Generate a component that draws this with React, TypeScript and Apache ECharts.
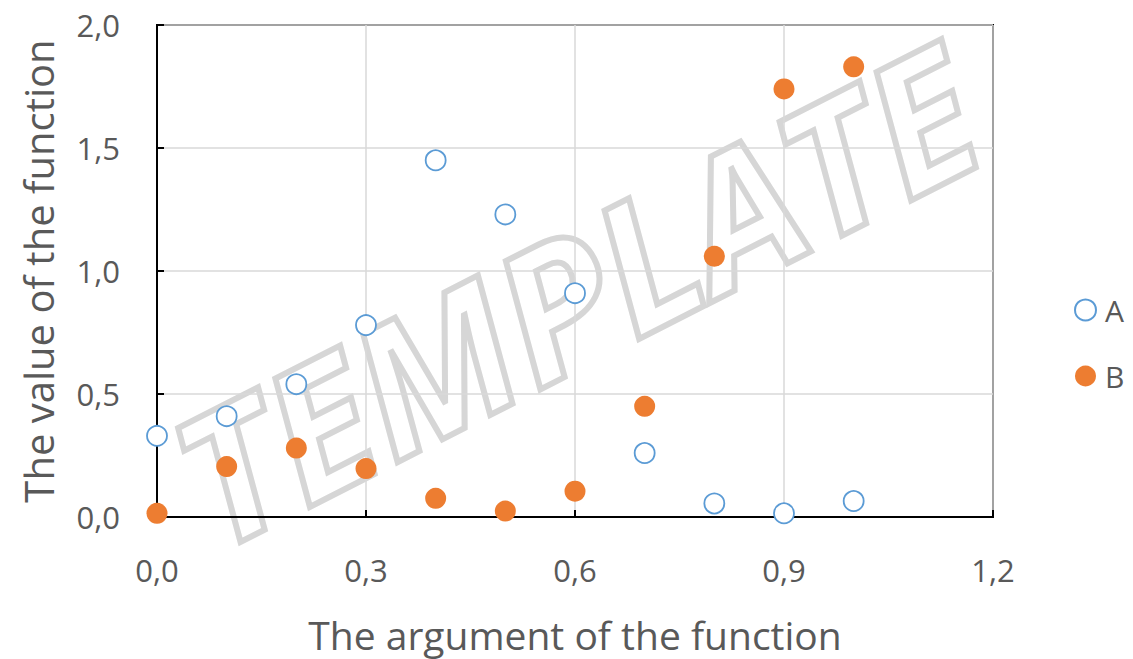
import React, { useEffect, useRef } from "react";
import * as echarts from "echarts";

const xValues = [0, 0.1, 0.2, 0.3, 0.4, 0.5, 0.6, 0.7, 0.8, 0.9, 1.0];
const seriesA = [0.33, 0.41, 0.54, 0.78, 1.45, 1.23, 0.91, 0.26, 0.055, 0.015, 0.065];
const seriesB = [0.015, 0.205, 0.28, 0.197, 0.076, 0.024, 0.105, 0.45, 1.06, 1.74, 1.83];
const seriesNames = ["A", "B"];
const xAxisTitle = "The argument of the function";
const yAxisTitle = "The value of the function";
const watermark = "TEMPLATE";

const fmt = (v: number) => v.toFixed(1).replace(".", ",");

export default function App() {
  const ref = useRef<HTMLDivElement>(null);
  useEffect(() => {
    document.body.style.margin = "0";
    if (!ref.current) return;
    const chart = echarts.init(ref.current, null, { renderer: "svg" });
    const font = "'Open Sans', 'Liberation Sans', sans-serif";
    chart.setOption({
      animation: false,
      backgroundColor: "#ffffff",
      grid: {
        left: 157,
        right: 140,
        top: 25,
        bottom: 137,
        show: true,
        borderColor: "#000000",
        borderWidth: 2,
      },
      graphic: [
        {
          type: "text",
          x: 575,
          y: 292,
          rotation: (27 * Math.PI) / 180,
          z: 0,
          silent: true,
          style: {
            text: watermark,
            font: `italic bold 182px ${font}`,
            lineHeight: 130,
            fill: "rgba(255,255,255,0)",
            stroke: "#d6d6d6",
            lineWidth: 6,
            align: "center",
            verticalAlign: "middle",
          },
        },
      ],
      legend: {
        orient: "vertical",
        left: 1069,
        top: 290,
        itemGap: 36,
        itemWidth: 21,
        itemHeight: 21,
        textStyle: { fontSize: 30, color: "#595959", fontFamily: font, padding: [0, 0, 0, 4] },
        data: seriesNames,
      },
      xAxis: {
        type: "value",
        min: 0,
        max: 1.2,
        interval: 0.3,
        name: xAxisTitle,
        nameLocation: "middle",
        nameGap: 97,
        nameTextStyle: { fontSize: 39, lineHeight: 40, color: "#595959", fontFamily: font },
        axisLine: { show: true, lineStyle: { color: "#000", width: 2 } },
        axisTick: { show: true, inside: true, length: 7, lineStyle: { color: "#000", width: 2 } },
        axisLabel: { formatter: fmt, fontSize: 31, color: "#595959", fontFamily: font, margin: 37 },
        splitLine: { show: true, lineStyle: { color: "#d9d9d9", width: 1.5 } },
      },
      yAxis: {
        type: "value",
        min: 0,
        max: 2,
        interval: 0.5,
        name: yAxisTitle,
        nameLocation: "middle",
        nameGap: 99,
        nameTextStyle: { fontSize: 40, color: "#595959", fontFamily: font },
        axisLine: { show: true, lineStyle: { color: "#000", width: 2 } },
        axisTick: { show: true, inside: true, length: 7, lineStyle: { color: "#000", width: 2 } },
        axisLabel: { formatter: fmt, fontSize: 31, color: "#595959", fontFamily: font, margin: 37 },
        splitLine: { show: true, lineStyle: { color: "#d9d9d9", width: 1.5 } },
      },
      series: [
        {
          name: seriesNames[0],
          type: "scatter",
          symbol: "circle",
          symbolSize: 20,
          z: 3,
          itemStyle: { color: "#ffffff", borderColor: "#5b9bd5", borderWidth: 1.8, opacity: 1 },
          data: xValues.map((x, i) => [x, seriesA[i]]),
        },
        {
          name: seriesNames[1],
          type: "scatter",
          symbol: "circle",
          symbolSize: 21,
          z: 3,
          itemStyle: { color: "#ed7d31", opacity: 1 },
          data: xValues.map((x, i) => [x, seriesB[i]]),
        },
      ],
    });
    return () => chart.dispose();
  }, []);
  return <div ref={ref} style={{ width: 1133, height: 659 }} />;
}
